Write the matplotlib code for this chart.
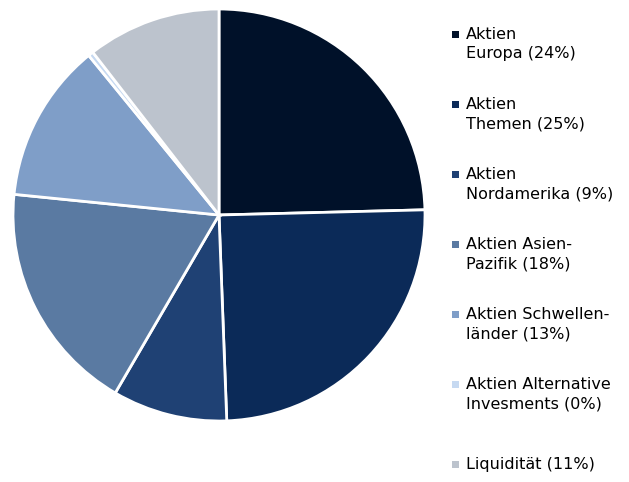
import matplotlib
matplotlib.use("Agg")
import matplotlib.pyplot as plt
from matplotlib.patches import Rectangle

# slice shares (clockwise from 12 o'clock)
shares = [24.6, 24.8, 9.0, 18.2, 12.5, 0.4, 10.5]
labels = [
    "Aktien\nEuropa (24%)",
    "Aktien\nThemen (25%)",
    "Aktien\nNordamerika (9%)",
    "Aktien Asien-\nPazifik (18%)",
    "Aktien Schwellen-\nländer (13%)",
    "Aktien Alternative\nInvesments (0%)",
    "Liquidität (11%)",
]
colors = ["#001129", "#0b2a58", "#1f4174", "#5a7aa2", "#7f9ec8", "#c6d9f1", "#bcc3cd"]

W, H = 629, 482
fig = plt.figure(figsize=(W / 100, H / 100), dpi=100)

# pie: centre (219, 215), radius ~206 px
cx, cy, r = 219, 215, 206
ax = fig.add_axes([(cx - r) / W, 1 - (cy + r) / H, 2 * r / W, 2 * r / H])
ax.pie(
    shares,
    colors=colors,
    startangle=90,
    counterclock=False,
    wedgeprops=dict(edgecolor="white", linewidth=2),
)
ax.set_xlim(-1, 1)
ax.set_ylim(-1, 1)
ax.set_aspect("equal")

# legend drawn by hand, one entry every 70 px
for i, (lab, col) in enumerate(zip(labels, colors)):
    y = 35 + 70 * i
    if i == len(labels) - 1:
        y = 465
    fig.patches.append(
        Rectangle((452 / W, 1 - (y + 3) / H), 7 / W, 7 / H,
                  transform=fig.transFigure, facecolor=col, edgecolor="none")
    )
    fig.text(466 / W, 1 - (y - 8) / H, lab, fontsize=11.5, va="top",
             ha="left", color="#000000", linespacing=1.35,
             transform=fig.transFigure)

fig.savefig("out.png", dpi=100)
